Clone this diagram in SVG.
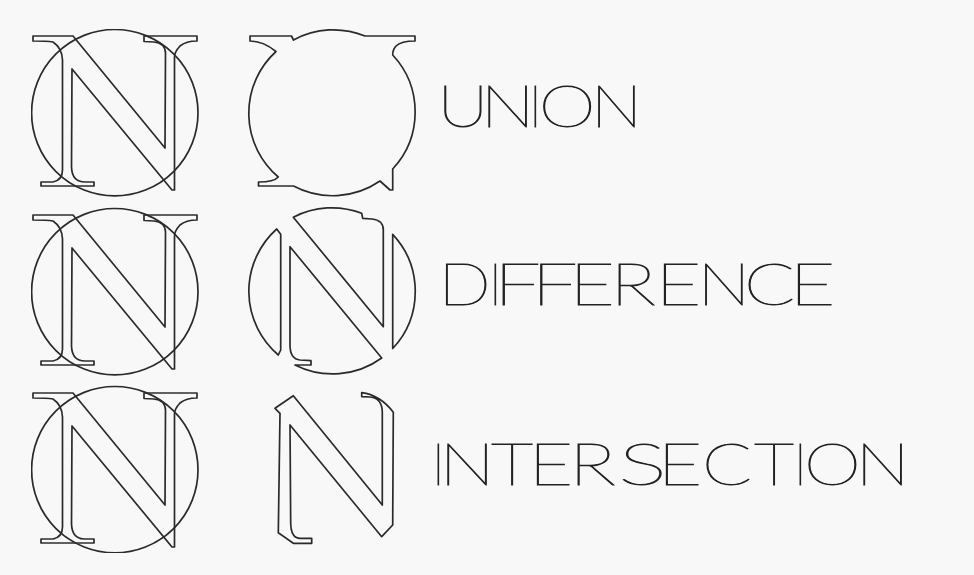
<svg xmlns="http://www.w3.org/2000/svg" xmlns:xlink="http://www.w3.org/1999/xlink" width="974" height="575" viewBox="0 0 974 575">
<style>
.o{fill:none;stroke:#2b2b2b;stroke-width:1.7;stroke-linejoin:round}
.t{font-family:"Lato","Inter",sans-serif;font-weight:100;font-size:58px;fill:#222;stroke:#222;stroke-width:.9}
</style>
<defs>
<filter id="soft" x="0" y="0" width="100%" height="100%"><feGaussianBlur stdDeviation="0.4"/></filter>
<g id="pair">
<circle class="o" cx="114.8" cy="112.7" r="83.2"/>
<path class="o" d="M33,36 L73,36 L165,148 L165.5,53 Q165,43 154,42 L144,41.5 L144,36 L197,36 L197,41 Q186,41 180,46 Q174.5,52 174.5,57 L174.5,190 L172,190 L72,69 L71.5,167 Q72,182 85,182 L94,182 L94,186 L41,186 L41,182 L53,182 Q62.5,180 62.5,170 L62.5,60 Q62,48 53,42 Q47,41 33,41 Z"/>
</g>
</defs>
<rect width="974" height="575" fill="#f8f8f8"/>
<g filter="url(#soft)">
<g id="source-union"><use xlink:href="#pair" href="#pair"/></g>
<g id="source-difference"><use xlink:href="#pair" href="#pair" y="179"/></g>
<g id="source-intersection"><use xlink:href="#pair" href="#pair" y="357"/></g>
<g id="result-union"><path class="o" d="M250,36 L291.5,36 L293.5,40 A83.6,83.6 0 0 1 365,36 L415,36 L415,41 Q401,41 396,46 Q392.5,50 392.7,55 A83.6,83.6 0 0 1 392.7,169 L392.7,190 L390,190 L380,181 A83.6,83.6 0 0 1 293.5,186 L258.5,186 L258.5,182 Q274,182 278.3,177 A83.6,83.6 0 0 1 276,51.5 Q263,41 250,41 Z"/></g>
<g id="result-difference">
<path class="o" d="M278.3,355 A83.6,83.6 0 0 1 276.7,229 L280.7,234.3 L280.7,350 Z"/>
<path class="o" d="M392.7,234.3 A83.6,83.6 0 0 1 392.7,348.5 Z"/>
<path class="o" d="M293.3,217.3 A83.6,83.6 0 0 1 361.7,213.3 L362.7,218.3 L372,219 Q383.3,220 383.3,230 L383.3,326.7 Z"/>
<path class="o" d="M290,246.7 L381.7,358 A83.6,83.6 0 0 1 295,365 L311,365 L311,360.7 L300,360 Q290,359 290,345 Z"/>
</g>
<g id="result-intersection"><path class="o" d="M275,408.3 L293.3,395.7 L382.3,505 L382.3,412 Q382,398 370,397 L361.7,396.7 L361.7,392.7 Q380,395 393.3,412.3 L392.7,525 L381.7,536.7 L290,425 L290.7,523.3 Q291,538.3 300,538.3 L311.7,538.3 L311.7,543.3 L293.3,543.3 L278.3,532.7 L280,413.3 Z"/></g>
<g id="labels">
<text class="t" y="127"><tspan x="437.2" textLength="51.3" lengthAdjust="spacingAndGlyphs">U</tspan><tspan x="480.4" textLength="54.2" lengthAdjust="spacingAndGlyphs">N</tspan><tspan x="528.2">I</tspan><tspan x="538.8" textLength="56.8" lengthAdjust="spacingAndGlyphs">O</tspan><tspan x="590.8" textLength="51.4" lengthAdjust="spacingAndGlyphs">N</tspan></text>
<text class="t" y="305"><tspan x="438.4" textLength="52.2" lengthAdjust="spacingAndGlyphs">D</tspan><tspan x="488.2">I</tspan><tspan x="493.4" textLength="47.4" lengthAdjust="spacingAndGlyphs">F</tspan><tspan x="531.3" textLength="46.5" lengthAdjust="spacingAndGlyphs">F</tspan><tspan x="569.3" textLength="45.7" lengthAdjust="spacingAndGlyphs">E</tspan><tspan x="610.3" textLength="45.4" lengthAdjust="spacingAndGlyphs">R</tspan><tspan x="655.2" textLength="46.2" lengthAdjust="spacingAndGlyphs">E</tspan><tspan x="697.6" textLength="52.8" lengthAdjust="spacingAndGlyphs">N</tspan><tspan x="743.9" textLength="51.1" lengthAdjust="spacingAndGlyphs">C</tspan><tspan x="789.2" textLength="46.2" lengthAdjust="spacingAndGlyphs">E</tspan></text>
<text class="t" y="485"><tspan x="431.2">I</tspan><tspan x="439.2" textLength="55.6" lengthAdjust="spacingAndGlyphs">N</tspan><tspan x="490.9" textLength="42.1" lengthAdjust="spacingAndGlyphs">T</tspan><tspan x="528.4" textLength="44.8" lengthAdjust="spacingAndGlyphs">E</tspan><tspan x="569.1" textLength="46.6" lengthAdjust="spacingAndGlyphs">R</tspan><tspan x="618.4" textLength="48.3" lengthAdjust="spacingAndGlyphs">S</tspan><tspan x="657.4" textLength="44.8" lengthAdjust="spacingAndGlyphs">E</tspan><tspan x="702" textLength="50" lengthAdjust="spacingAndGlyphs">C</tspan><tspan x="754" textLength="40" lengthAdjust="spacingAndGlyphs">T</tspan><tspan x="793.2">I</tspan><tspan x="804.1" textLength="56.8" lengthAdjust="spacingAndGlyphs">O</tspan><tspan x="855.4" textLength="54.2" lengthAdjust="spacingAndGlyphs">N</tspan></text>
</g>
</g>
</svg>
